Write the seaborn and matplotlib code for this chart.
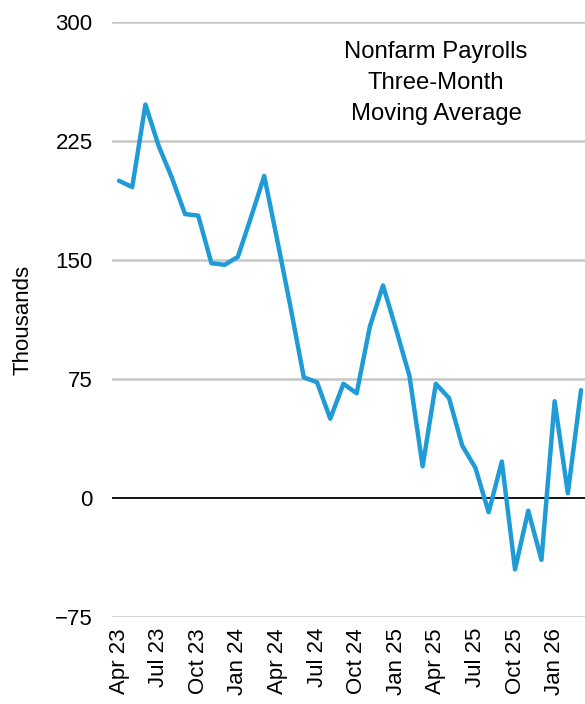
import matplotlib
matplotlib.use('Agg')
import matplotlib.pyplot as plt
import pandas as pd
import seaborn as sns

# Nonfarm payrolls, three-month moving average (thousands), Apr 2023 - Mar 2026
months = pd.date_range('2023-04-01', periods=36, freq='MS')
payrolls = [200, 196, 248, 222, 202, 179, 178, 148, 147, 152, 177, 203,
            162, 120, 76, 73, 50, 72, 66, 108, 134, 106, 77, 20,
            72, 63, 33, 19, -9, 23, -45, -8, -39, 61, 3, 68]
y_ticks = [-75, 0, 75, 150, 225, 300]

df = pd.DataFrame({'month': months, 'value': payrolls})
df['idx'] = range(len(df))
tick_idx = df['idx'][::3]
tick_labels = df['month'][::3].dt.strftime('%b %y')

sns.set_style('white')
plt.rcParams['font.family'] = ['Liberation Sans', 'DejaVu Sans']
plt.rcParams['text.color'] = 'black'
plt.rcParams['axes.labelcolor'] = 'black'
plt.rcParams['xtick.color'] = 'black'
plt.rcParams['ytick.color'] = 'black'

fig = plt.figure(figsize=(5.85, 7.04), dpi=100)
ax = fig.add_axes([0.1915, 0.1236, 0.8085, 0.845])

for v in y_ticks:
    if v == 0:
        ax.axhline(v, color='black', lw=1.3, zorder=1)
    else:
        ax.axhline(v, color='#c6c6c6', lw=1.8, zorder=1)

sns.lineplot(data=df, x='idx', y='value', ax=ax, color='#1f9bd6', lw=3.2, zorder=3)

ax.set_xlim(-0.53, 35.3)
ax.set_ylim(-75, 300)
ax.set_yticks(y_ticks)
ax.set_yticklabels([f'{v}'.replace('-', '\u2212') for v in y_ticks])
ax.set_xticks(tick_idx)
ax.set_xticklabels(tick_labels, rotation=90)
ax.tick_params(axis='y', length=0, pad=14, labelsize=16)
ax.tick_params(axis='x', length=0, pad=8, labelsize=16)
for s in ax.spines.values():
    s.set_visible(False)

ax.set_xlabel('')
ax.set_ylabel('Thousands', fontsize=16)
ax.yaxis.set_label_coords(-0.165, 0.5)

ax.text(0.685, 0.968, 'Nonfarm Payrolls\nThree-Month\nMoving Average',
        transform=ax.transAxes, ha='center', va='top', fontsize=17.2, linespacing=1.53)

fig.savefig('out.png', dpi=100)
